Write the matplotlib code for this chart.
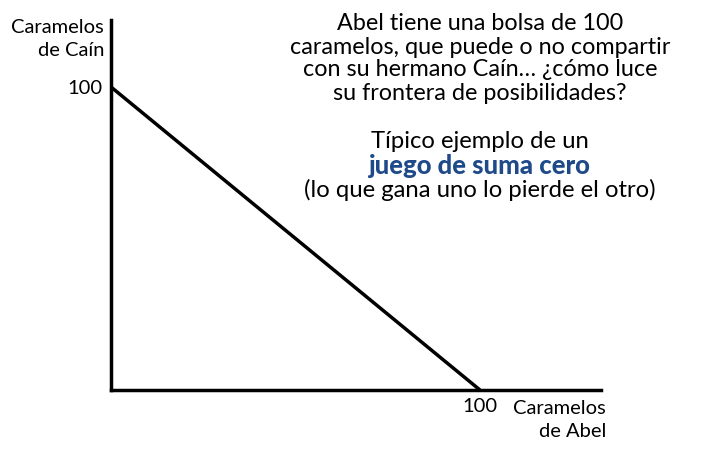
import matplotlib
matplotlib.use("Agg")
import matplotlib.pyplot as plt

# frontier: Abel's candies vs Cain's candies
abel = [0, 100]
cain = [100, 0]
xmax, ymax = 132.8, 122.1

text_lines = [
    "Abel tiene una bolsa de 100",
    "caramelos, que puede o no compartir",
    "con su hermano Caín… ¿cómo luce",
    "su frontera de posibilidades?",
]
text_lines2 = ["Típico ejemplo de un", "juego de suma cero", "(lo que gana uno lo pierde el otro)"]

plt.rcParams['font.family'] = ['Lato', 'DejaVu Sans']

fig = plt.figure(figsize=(7.19, 4.5), dpi=100)
ax = fig.add_axes([111 / 719, 1 - 390 / 450, 490 / 719, 370 / 450])
ax.plot(abel, cain, color='black', lw=2.5, solid_capstyle='butt')
ax.set_xlim(0, xmax)
ax.set_ylim(0, ymax)
for s in ['top', 'right']:
    ax.spines[s].set_visible(False)
for s in ['left', 'bottom']:
    ax.spines[s].set_linewidth(2.5)
ax.set_xticks([100])
ax.set_xticklabels(["100"], fontsize=14.5)
ax.set_yticks([100])
ax.set_yticklabels(["100"], fontsize=14.5)
ax.tick_params(length=0, pad=6)

fig.text(104 / 719, 1 - 19 / 450, "Caramelos\nde Caín", ha='right', va='top',
         fontsize=14.5, linespacing=1.45)
fig.text(606 / 719, 1 - 400 / 450, "Caramelos\nde Abel", ha='right', va='top',
         fontsize=14.5, linespacing=1.45, multialignment='right')

ys = [24, 47, 70, 93]
for t, y in zip(text_lines, ys):
    fig.text(480 / 719, 1 - y / 450, t, ha='center', va='center', fontsize=16.8)
ys2 = [142, 166, 190]
for i, (t, y) in enumerate(zip(text_lines2, ys2)):
    if i == 1:
        fig.text(480 / 719, 1 - y / 450, t, ha='center', va='center', fontsize=18.5,
                 fontweight=900, color='#1f4a8a')
    else:
        fig.text(480 / 719, 1 - y / 450, t, ha='center', va='center', fontsize=17.2)

fig.savefig("out.png", dpi=100)
